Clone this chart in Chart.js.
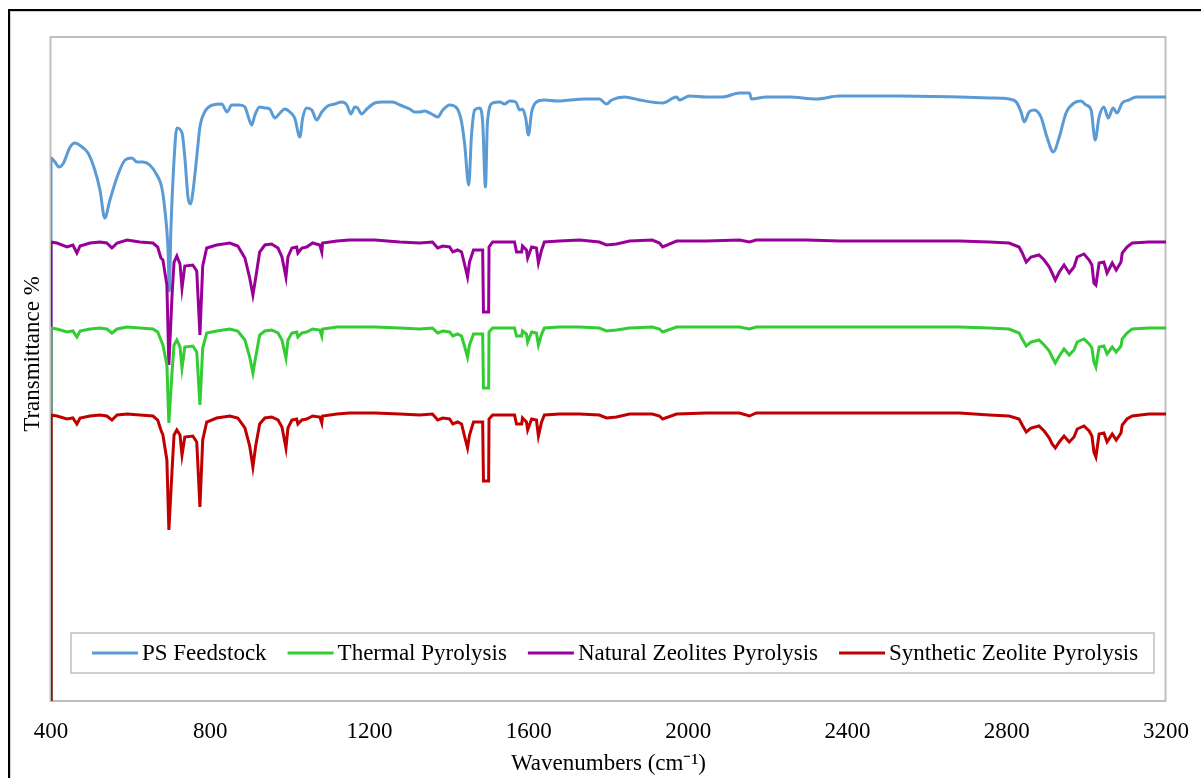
<!DOCTYPE html>
<html>
<head>
<meta charset="utf-8">
<title>FTIR spectra</title>
<script src="https://cdn.jsdelivr.net/npm/chart.js@4.4.1/dist/chart.umd.min.js"></script>
<style>
  html, body { margin: 0; padding: 0; background: #fff; }
  #chart { display: block; }
</style>
</head>
<body>
<canvas id="chart" width="1201" height="778"></canvas>
<script>
// series names, as in the legend
var seriesNames = ['PS Feedstock', 'Thermal Pyrolysis', 'Natural Zeolites Pyrolysis', 'Synthetic Zeolite Pyrolysis'];
var xTicks = [400, 800, 1200, 1600, 2000, 2400, 2800, 3200];

// PS feedstock (wavenumber, transmittance)
var feedWn = [400, 400, 410, 420, 430, 448, 460, 478, 493, 510,
    523, 535, 548, 566, 586, 603, 616, 631, 648, 666,
    678, 686, 694, 697, 701, 709, 716, 729, 736, 744,
    751, 756, 766, 774, 786, 806, 829, 842, 854, 874,
    887, 894, 904, 912, 924, 937, 949, 962, 975, 987,
    1000, 1012, 1025, 1032, 1042, 1055, 1067, 1080, 1095, 1113,
    1130, 1143, 1153, 1163, 1170, 1180, 1193, 1213, 1233, 1258,
    1276, 1301, 1313, 1326, 1338, 1356, 1371, 1384, 1401, 1419,
    1431, 1439, 1449, 1456, 1464, 1476, 1484, 1491, 1496, 1509,
    1527, 1539, 1552, 1567, 1577, 1584, 1592, 1599, 1607, 1619,
    1639, 1672, 1702, 1740, 1777, 1795, 1808, 1840, 1878, 1936,
    1971, 1978, 2003, 2046, 2086, 2129, 2154, 2159, 2196, 2254,
    2322, 2380, 2530, 2681, 2756, 2806, 2824, 2836, 2844, 2856,
    2869, 2886, 2901, 2917, 2932, 2949, 2969, 2987, 2999, 3012,
    3022, 3032, 3044, 3055, 3067, 3077, 3090, 3107, 3125, 3157,
    3200];
var feedT = [0, 108.6, 107.8, 106.8, 107.4, 110.8, 111.6, 110.8, 109.6, 106.2,
    102.2, 96.6, 100.2, 104.8, 108.2, 108.6, 107.8, 107.8, 107.2, 105.2,
    102.8, 98.2, 90.0, 82.0, 94.0, 108.2, 114.6, 113.6, 108.8, 100.8,
    99.4, 101.6, 108.8, 114.8, 117.8, 119.2, 119.4, 117.8, 119.2, 119.2,
    118.8, 117.2, 115.2, 117.2, 118.8, 118.6, 118.4, 116.6, 117.6, 118.4,
    117.8, 116.6, 112.8, 116.6, 118.6, 118.2, 116.2, 117.8, 119.0, 119.4,
    119.8, 119.2, 117.4, 118.8, 118.6, 117.4, 118.4, 119.6, 119.8, 119.8,
    119.2, 118.4, 117.8, 117.8, 118.0, 117.4, 116.8, 118.2, 119.2, 118.6,
    115.8, 111.2, 103.2, 113.2, 118.2, 118.6, 115.8, 102.8, 115.8, 119.6,
    119.8, 119.4, 120.0, 119.8, 118.2, 118.4, 116.6, 113.2, 117.8, 119.8,
    120.2, 120.0, 120.2, 120.4, 120.4, 119.4, 120.2, 120.8, 120.2, 119.6,
    120.8, 120.2, 121.0, 120.8, 120.8, 121.6, 121.6, 120.4, 120.8, 120.8,
    120.4, 121.0, 121.0, 120.8, 120.6, 120.4, 119.8, 117.8, 115.8, 117.8,
    118.2, 116.8, 112.8, 109.8, 112.8, 117.6, 119.6, 120.0, 119.2, 118.2,
    112.2, 116.8, 118.8, 116.6, 118.6, 117.6, 119.6, 120.2, 120.8, 120.8,
    120.8];

// the three pyrolysis products were sampled on the same wavenumbers
var oilWn = [400, 400, 415, 440, 455, 465, 473, 498, 523, 540,
    553, 566, 591, 623, 656, 668, 676, 681, 691, 696,
    704, 709, 716, 724, 729, 736, 756, 766, 774, 781,
    791, 816, 849, 869, 887, 899, 907, 914, 924, 937,
    954, 970, 980, 990, 995, 1005, 1017, 1020, 1030, 1042,
    1057, 1075, 1080, 1082, 1118, 1150, 1213, 1276, 1326, 1358,
    1371, 1384, 1401, 1409, 1421, 1431, 1439, 1446, 1451, 1461,
    1484, 1486, 1499, 1500, 1509, 1564, 1569, 1582, 1584, 1594,
    1597, 1607, 1619, 1624, 1632, 1639, 1677, 1727, 1777, 1795,
    1820, 1853, 1910, 1928, 1936, 1971, 2046, 2129, 2154, 2171,
    2297, 2380, 2530, 2681, 2756, 2806, 2831, 2839, 2849, 2861,
    2881, 2894, 2907, 2914, 2922, 2932, 2944, 2957, 2969, 2977,
    2994, 3007, 3014, 3019, 3024, 3032, 3044, 3052, 3065, 3075,
    3087, 3090, 3102, 3115, 3157, 3200];

var thermalT = [0, 74.6, 74.4, 73.8, 74.0, 72.8, 74.0, 74.4, 74.6, 74.4,
    73.6, 74.4, 74.8, 74.6, 74.4, 73.8, 72.2, 71.2, 67.2, 55.6,
    65.8, 71.2, 72.2, 70.8, 66.6, 70.8, 71.0, 69.8, 59.2, 70.6,
    73.6, 74.0, 74.4, 74.0, 72.2, 68.8, 65.6, 68.8, 73.2, 74.0,
    74.2, 73.6, 72.2, 68.6, 72.2, 73.6, 73.8, 72.8, 73.6, 73.8,
    74.4, 74.2, 73.0, 74.4, 74.8, 74.8, 74.8, 74.6, 74.4, 74.6,
    73.6, 74.0, 73.8, 73.0, 73.4, 73.0, 70.8, 68.8, 71.2, 73.4,
    73.4, 62.6, 62.6, 73.8, 74.6, 74.6, 73.0, 73.0, 74.0, 73.4,
    71.8, 73.8, 73.6, 71.2, 73.4, 74.6, 74.8, 74.8, 74.6, 74.0,
    74.2, 74.6, 74.8, 74.4, 73.8, 74.8, 74.8, 74.8, 74.4, 74.8,
    74.8, 74.8, 74.8, 74.8, 74.6, 74.4, 73.6, 72.4, 71.0, 71.8,
    72.2, 71.2, 70.0, 68.8, 67.6, 69.0, 70.4, 69.2, 70.2, 71.8,
    72.4, 71.4, 70.6, 67.8, 66.8, 70.8, 71.0, 69.4, 70.8, 69.8,
    71.0, 72.4, 73.6, 74.4, 74.6, 74.6];

var naturalT = [0, 91.8, 91.6, 90.8, 91.2, 89.6, 91.0, 91.6, 91.8, 91.6,
    90.6, 91.6, 92.2, 91.8, 91.6, 90.8, 88.6, 88.2, 83.2, 67.2,
    81.2, 87.8, 89.0, 87.4, 82.6, 87.0, 87.2, 86.0, 73.2, 87.0,
    90.6, 91.2, 91.6, 91.0, 88.6, 84.6, 81.2, 84.6, 89.8, 91.2,
    91.4, 90.6, 88.8, 84.8, 88.8, 90.6, 90.8, 89.6, 90.6, 90.8,
    91.6, 91.2, 89.8, 91.6, 92.0, 92.2, 92.2, 91.8, 91.6, 91.8,
    90.6, 91.0, 90.8, 89.8, 90.2, 89.8, 87.2, 84.8, 87.8, 90.2,
    90.2, 77.8, 77.8, 90.8, 91.8, 91.8, 89.8, 89.8, 91.0, 90.2,
    88.6, 90.8, 90.6, 87.6, 90.2, 91.8, 92.0, 92.2, 91.8, 91.2,
    91.4, 92.0, 92.2, 91.6, 90.8, 92.0, 92.0, 92.2, 91.8, 92.2,
    92.2, 92.0, 92.0, 92.0, 91.8, 91.6, 90.8, 89.6, 87.8, 88.8,
    89.2, 88.2, 86.8, 85.6, 84.2, 85.8, 87.2, 85.6, 86.8, 88.8,
    89.4, 88.2, 87.2, 83.6, 83.2, 87.6, 87.8, 85.6, 87.6, 86.2,
    87.8, 89.6, 90.8, 91.6, 91.8, 91.8];

var syntheticT = [0, 57.2, 57.0, 56.4, 56.6, 55.4, 56.6, 57.0, 57.2, 57.0,
    56.2, 57.2, 57.4, 57.2, 57.0, 56.2, 54.2, 53.2, 48.2, 34.2,
    46.2, 53.2, 54.2, 53.2, 49.2, 52.8, 53.0, 51.8, 38.8, 52.2,
    55.8, 56.6, 57.0, 56.6, 54.6, 51.0, 46.8, 51.0, 55.4, 56.6,
    56.8, 56.2, 54.8, 50.6, 54.6, 56.2, 56.4, 55.4, 56.2, 56.4,
    57.0, 56.8, 55.6, 57.0, 57.4, 57.6, 57.6, 57.4, 57.2, 57.4,
    56.2, 56.6, 56.4, 55.4, 55.8, 55.4, 52.8, 50.6, 53.2, 55.8,
    55.8, 44.0, 44.0, 56.4, 57.2, 57.2, 55.4, 55.4, 56.6, 55.8,
    54.2, 56.4, 56.2, 53.0, 55.8, 57.2, 57.4, 57.4, 57.2, 56.6,
    56.8, 57.4, 57.4, 57.0, 56.4, 57.4, 57.6, 57.6, 57.0, 57.6,
    57.6, 57.6, 57.6, 57.6, 57.2, 57.0, 56.4, 55.2, 53.8, 54.6,
    55.0, 54.0, 52.6, 51.4, 50.6, 51.8, 53.0, 51.8, 52.8, 54.4,
    55.0, 54.0, 53.0, 49.8, 48.8, 53.4, 53.6, 51.8, 53.4, 52.2,
    53.6, 55.2, 56.4, 57.0, 57.4, 57.4];

var serif = '"Liberation Serif", "Times New Roman", serif';

function pts(xs, ys) {
    return xs.map(function (x, i) { return { x: x, y: ys[i] }; });
}

// white page, outer frame and the grey plot border
var frame = {
    id: 'frame',
    beforeDraw: function (chart) {
        var ctx = chart.ctx;
        ctx.save();
        ctx.fillStyle = '#fff';
        ctx.fillRect(0, 0, chart.width, chart.height);
        ctx.fillStyle = '#000';
        ctx.fillRect(8, 9, chart.width, 2);
        ctx.fillRect(8, 9, 2, chart.height);
        ctx.fillStyle = '#d0d0d0';
        ctx.fillRect(10, 11, chart.width, 1);
        ctx.fillRect(10, 11, 1, chart.height);
        ctx.restore();
    },
    beforeDatasetsDraw: function (chart) {
        var a = chart.chartArea, ctx = chart.ctx;
        ctx.save();
        ctx.strokeStyle = '#bfbfbf';
        ctx.lineWidth = 2;
        ctx.strokeRect(a.left - 0.5, a.top, a.right - a.left, a.bottom - a.top);
        ctx.restore();
    }
};

// legend boxed inside the plot area, plus the y title
var boxLegend = {
    id: 'boxLegend',
    afterDraw: function (chart) {
        var a = chart.chartArea, ctx = chart.ctx;
        var left = a.left + 20, right = a.right - 12, top = a.bottom - 68, h = 40;
        ctx.save();
        ctx.fillStyle = '#fff';
        ctx.fillRect(left, top, right - left, h);
        ctx.strokeStyle = '#bfbfbf';
        ctx.lineWidth = 1.5;
        ctx.strokeRect(left, top, right - left, h);
        ctx.font = '23px ' + serif;
        ctx.textBaseline = 'middle';
        ctx.textAlign = 'left';
        var x = left + 21, y = top + h / 2;
        chart.data.datasets.forEach(function (ds) {
            ctx.strokeStyle = ds.borderColor;
            ctx.lineWidth = 3;
            ctx.beginPath();
            ctx.moveTo(x, y);
            ctx.lineTo(x + 46, y);
            ctx.stroke();
            ctx.fillStyle = '#000';
            ctx.fillText(ds.label, x + 50, y + 1);
            x += 50 + ctx.measureText(ds.label).width + 21;
        });

        ctx.translate(33, 354);
        ctx.rotate(-Math.PI / 2);
        ctx.textAlign = 'center';
        ctx.fillStyle = '#000';
        ctx.fillText('Transmittance %', 0, 0);
        ctx.restore();
    }
};

const ctx = document.getElementById('chart');
var myChart = new Chart(ctx, {
    type: 'line',
    data: {
        datasets: [{
            label: seriesNames[0],
            data: pts(feedWn, feedT),
            borderColor: '#5B9BD5',
            cubicInterpolationMode: 'monotone',
            order: 3
        }, {
            label: seriesNames[1],
            data: pts(oilWn, thermalT),
            borderColor: '#33CC33',
            order: 1
        }, {
            label: seriesNames[2],
            data: pts(oilWn, naturalT),
            borderColor: '#990099',
            order: 2
        }, {
            label: seriesNames[3],
            data: pts(oilWn, syntheticT),
            borderColor: '#C00000',
            order: 0
        }]
    },
    options: {
        responsive: false,
        animation: false,
        devicePixelRatio: 1,
        layout: { padding: { left: 51, right: 35, top: 37, bottom: 0 } },
        elements: {
            point: { radius: 0, hoverRadius: 0 },
            line: { borderWidth: 3, tension: 0, fill: false }
        },
        plugins: {
            legend: { display: false },
            tooltip: { enabled: false }
        },
        scales: {
            x: {
                type: 'linear',
                min: 400,
                max: 3200,
                afterBuildTicks: function (scale) {
                    scale.ticks = xTicks.map(function (v) { return { value: v }; });
                },
                afterFit: function (scale) {
                    scale.height = 77;
                    scale.paddingLeft = 0;
                    scale.paddingRight = 0;
                },
                grid: { display: false, drawTicks: false },
                border: { display: false },
                ticks: {
                    color: '#000',
                    font: { family: serif, size: 23 },
                    padding: 17,
                    maxRotation: 0,
                    autoSkip: false,
                    callback: function (v) { return String(v); }
                },
                title: {
                    display: true,
                    text: 'Wavenumbers (cm\u207B\u00B9)',
                    color: '#000',
                    font: { family: serif, size: 23 },
                    padding: 0
                }
            },
            y: {
                display: false,
                min: 0,
                max: 132.8
            }
        }
    },
    plugins: [frame, boxLegend]
});
</script>
</body>
</html>
